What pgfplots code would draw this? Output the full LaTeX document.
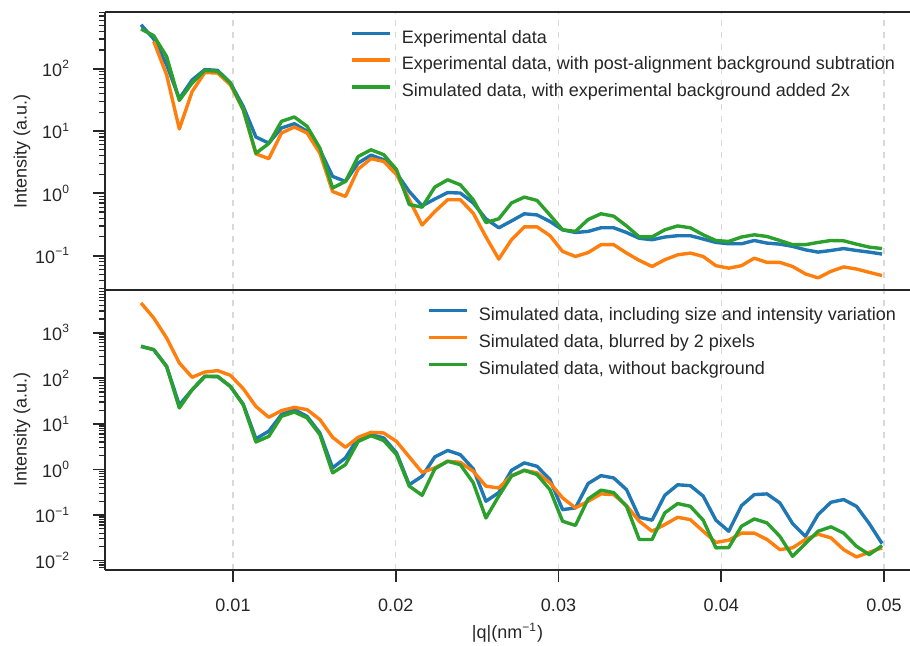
\documentclass[border=0pt]{standalone}
\usepackage{fontspec}
\setmainfont{Liberation Sans}
\usepackage{pgfplots}
\pgfplotsset{compat=1.18}
\usepackage{pgfplotstable}

\definecolor{tabblue}{RGB}{31,119,180}
\definecolor{taborange}{RGB}{255,127,14}
\definecolor{tabgreen}{RGB}{44,160,44}
\definecolor{spine}{RGB}{38,38,38}

% top panel: experimental / background-subtracted / simulated+2x background
\pgfplotstableread{
q       exp     sub     sim
0.00435 508     nan     433
0.00513 300     274     339
0.00592 116     80      157
0.00670 33      10.8    31
0.00749 66      43      59
0.00827 97      87      94
0.00906 94      85      91
0.00984 59      55      59
0.01063 24.8    22      22
0.01141 8.0     4.3     4.4
0.01220 6.4     3.6     6.3
0.01298 11.2    9.3     14.3
0.01377 13.1    11.6    16.8
0.01455 9.9     9.3     11.9
0.01534 5.0     4.4     5.3
0.01612 1.87    1.07    1.22
0.01691 1.55    0.89    1.55
0.01769 3.06    2.45    3.9
0.01848 4.1     3.6     5.0
0.01926 3.46    3.25    4.17
0.02005 2.1     2.0     2.4
0.02083 1.07    0.79    0.66
0.02162 0.63    0.31    0.60
0.02240 0.81    0.51    1.26
0.02319 1.03    0.79    1.65
0.02397 1.01    0.79    1.37
0.02476 0.70    0.48    0.79
0.02554 0.39    0.20    0.34
0.02633 0.28    0.088   0.39
0.02711 0.36    0.18    0.70
0.02790 0.47    0.29    0.87
0.02868 0.45    0.29    0.77
0.02947 0.354   0.21    0.45
0.03025 0.26    0.117   0.26
0.03104 0.235   0.097   0.245
0.03182 0.245   0.112   0.38
0.03261 0.28    0.15    0.47
0.03339 0.28    0.15    0.43
0.03418 0.235   0.11    0.30
0.03496 0.19    0.084   0.20
0.03575 0.18    0.067   0.20
0.03653 0.199   0.086   0.26
0.03732 0.209   0.103   0.30
0.03810 0.209   0.11    0.28
0.03889 0.185   0.097   0.216
0.03967 0.163   0.069   0.175
0.04046 0.155   0.063   0.169
0.04124 0.155   0.069   0.199
0.04203 0.175   0.091   0.216
0.04281 0.159   0.078   0.203
0.04360 0.153   0.078   0.175
0.04438 0.141   0.067   0.15
0.04517 0.124   0.051   0.15
0.04595 0.114   0.044   0.163
0.04674 0.121   0.056   0.175
0.04752 0.13    0.066   0.173
0.04831 0.121   0.061   0.153
0.04909 0.114   0.054   0.137
0.04988 0.106   0.048   0.13
}\toptable

% bottom panel: size/intensity variation / blurred / no background
\pgfplotstableread{
q       var     blur    nobg
0.00435 501     4480    501
0.00513 424     2100    424
0.00592 182     766     182
0.00670 26      217     22.3
0.00749 56      105     56
0.00827 110     137     110
0.00906 108     147     110
0.00984 66      116     66
0.01063 27      59      26
0.01141 4.7     24      4.0
0.01220 6.9     13.9    5.3
0.01298 16      19.5    14.6
0.01377 20.5    23      18.2
0.01455 14.6    20.5    13.5
0.01534 6.3     12.4    5.8
0.01612 1.08    5.06    0.84
0.01691 1.79    3.05    1.27
0.01769 4.9     5.06    4.1
0.01848 5.8     6.5     5.5
0.01926 4.9     6.3     4.3
0.02005 2.3     4.1     2.1
0.02083 0.46    1.88    0.43
0.02162 0.71    0.86    0.27
0.02240 1.88    1.08    1.03
0.02319 2.6     1.51    1.51
0.02397 2.1     1.43    1.27
0.02476 1.03    0.91    0.51
0.02554 0.2     0.43    0.086
0.02633 0.31    0.39    0.26
0.02711 0.955   0.73    0.71
0.02790 1.39    0.955   0.955
0.02868 1.17    0.84    0.77
0.02947 0.6     0.51    0.36
0.03025 0.131   0.237   0.073
0.03104 0.143   0.143   0.059
0.03182 0.49    0.2     0.225
0.03261 0.73    0.29    0.35
0.03339 0.65    0.28    0.31
0.03418 0.36    0.16    0.155
0.03496 0.089   0.073   0.029
0.03575 0.077   0.044   0.029
0.03653 0.27    0.0615  0.111
0.03732 0.46    0.089   0.178
0.03810 0.44    0.079   0.155
0.03889 0.26    0.044   0.077
0.03967 0.077   0.025   0.019
0.04046 0.044   0.028   0.0193
0.04124 0.16    0.040   0.0565
0.04203 0.28    0.040   0.082
0.04281 0.29    0.029   0.067
0.04360 0.184   0.0174  0.034
0.04438 0.065   0.019   0.0124
0.04517 0.034   0.029   0.0236
0.04595 0.102   0.038   0.044
0.04674 0.19    0.0315  0.055
0.04752 0.218   0.0174  0.040
0.04831 0.155   0.012   0.0206
0.04909 0.065   0.0152  0.0135
0.04988 0.0236  0.019   0.0213
}\bottable

\pgfplotsset{
  scale only axis, width=402.5pt,
  xmin=0.002135, xmax=0.051598,
  scaled x ticks=false,
  axis y line*=left,
  axis line style={-, draw=spine, line width=1.2pt},
  tick pos=left, tick align=outside,
  major tick length=6pt, minor tick length=3pt,
  major tick style={draw=spine, line width=0.9pt},
  minor tick style={draw=spine, line width=0.6pt},
  xtick={0.01,0.02,0.03,0.04,0.05},
  xmajorgrids,
  major x grid style={dashed, draw=black!15, line width=0.6pt},
  tick label style={font=\fontsize{9}{10}\selectfont, text=spine},
  yticklabel style={xshift=-8pt},
  xticklabel style={yshift=-5pt},
  label style={font=\fontsize{9}{10}\selectfont, text=spine},
  ylabel={Intensity (a.u.)},
  ylabel style={at={(axis description cs:-0.103,0.5)}, anchor=center},
  legend style={draw=none, fill=none, anchor=north west,
    font=\fontsize{9}{10}\selectfont, text=spine,
    row sep=4.8pt, column sep=5pt, inner sep=0pt,
    nodes={inner sep=0pt, text height=6.6pt, text depth=2pt}},
  legend cell align=left,
  legend image code/.code={\draw[#1] (0pt,2.6pt) -- (19pt,2.6pt);},
  every axis plot/.append style={line width=1.7pt, line join=round},
}

\begin{document}
\begin{tikzpicture}
\useasboundingbox (-52.5pt,6pt) rectangle (402.5pt,-317pt);

\begin{axis}[ymode=log, name=top, at={(0pt,0pt)}, anchor=north west,
  height=139.1pt, ymin=0.0279, ymax=813,
  ytick={0.1,1,10,100},
  yticklabels={10\textsuperscript{−1},10\textsuperscript{0},10\textsuperscript{1},10\textsuperscript{2}},
  minor ytick={0.03,0.04,0.05,0.06,0.07,0.08,0.09,0.2,0.3,0.4,0.5,0.6,0.7,0.8,0.9,
    2,3,4,5,6,7,8,9,20,30,40,50,60,70,80,90,200,300,400,500,600,700,800},
  xticklabels={}, major x tick style={draw=none},
  legend style={at={(axis description cs:0.3043,0.937)}}]
\addplot[tabblue] table[x=q, y=exp] {\toptable};
\addlegendentry{Experimental data}
\addplot[taborange] table[x=q, y=sub] {\toptable};
\addlegendentry{Experimental data, with post-alignment background subtration}
\addplot[tabgreen] table[x=q, y=sim] {\toptable};
\addlegendentry{Simulated data, with experimental background added 2x}
\end{axis}

\begin{axis}[ymode=log, at={(0pt,-139.1pt)}, anchor=north west,
  height=139.75pt, ymin=0.0063, ymax=8550,
  ytick={0.01,0.1,1,10,100,1000},
  yticklabels={10\textsuperscript{−2},10\textsuperscript{−1},10\textsuperscript{0},10\textsuperscript{1},10\textsuperscript{2},10\textsuperscript{3}},
  minor ytick={0.007,0.008,0.009,0.02,0.03,0.04,0.05,0.06,0.07,0.08,0.09,
    0.2,0.3,0.4,0.5,0.6,0.7,0.8,0.9,2,3,4,5,6,7,8,9,20,30,40,50,60,70,80,90,
    200,300,400,500,600,700,800,900,2000,3000,4000,5000,6000,7000,8000},
  xticklabel style={/pgf/number format/fixed, /pgf/number format/fixed zerofill,
    /pgf/number format/precision=2, /pgf/number format/assume math mode=true},
  xlabel={|q|(nm\textsuperscript{−1})},
  xlabel style={at={(axis description cs:0.5,0)}, yshift=-31.5pt, anchor=center},
  legend style={at={(axis description cs:0.4,0.94)}}]
\addplot[tabblue] table[x=q, y=var] {\bottable};
\addlegendentry{Simulated data, including size and intensity variation}
\addplot[taborange] table[x=q, y=blur] {\bottable};
\addlegendentry{Simulated data, blurred by 2 pixels}
\addplot[tabgreen] table[x=q, y=nobg] {\bottable};
\addlegendentry{Simulated data, without background}
\end{axis}
\end{tikzpicture}
\end{document}
